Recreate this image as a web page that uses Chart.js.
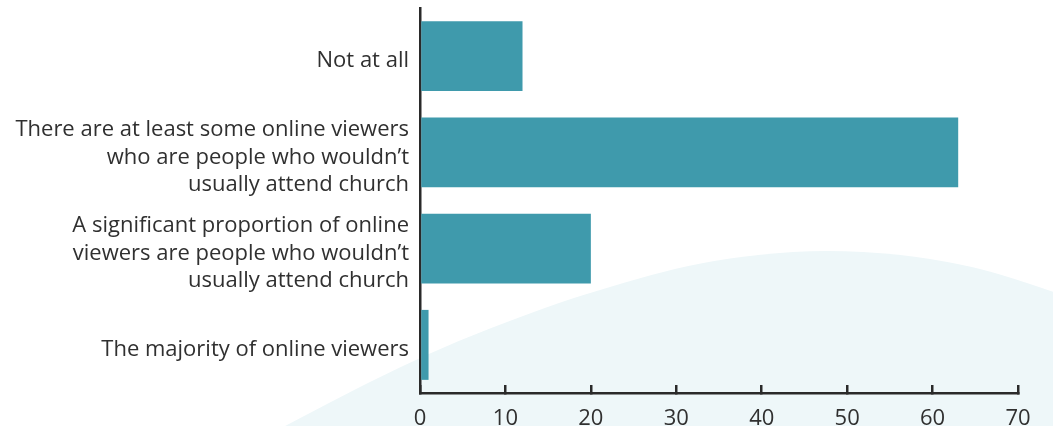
<!DOCTYPE html>
<html>
<head>
<meta charset="utf-8">
<script src="https://cdn.jsdelivr.net/npm/chart.js@4.4.1/dist/chart.umd.min.js"></script>
<style>
  html, body { margin: 0; padding: 0; background: #ffffff; }
  #wrap { width: 1053px; height: 426px; position: relative; }
</style>
</head>
<body>
<div id="wrap"><canvas id="c" width="1053" height="426"></canvas></div>
<script>
// ---- data ----
const categories = [
  ["Not at all"],
  ["There are at least some online viewers", "who are people who wouldn\u2019t", "usually attend church"],
  ["A significant proportion of online", "viewers are people who wouldn\u2019t", "usually attend church"],
  ["The majority of online viewers"]
];
const values = [12, 63, 20, 1];
const xTicks = [0, 10, 20, 30, 40, 50, 60, 70];

// ---- decoration: light background swoosh ----
const swoosh = [[270,434],[340,397],[400,367],[460,340],[520,317],[567,300],[600,290],[650,275],[700,263],[760,254],[826,250],[900,254],[960,264],[1000,274],[1060,294],[1060,434]];
const bgPlugin = {
  id: 'bgSwoosh',
  beforeDraw(chart) {
    const ctx = chart.ctx;
    ctx.save();
    ctx.fillStyle = '#eef7f9';
    ctx.beginPath();
    ctx.moveTo(swoosh[0][0], swoosh[0][1]);
    for (let i = 1; i < swoosh.length - 2; i++) {
      const mx = (swoosh[i][0] + swoosh[i+1][0]) / 2;
      const my = (swoosh[i][1] + swoosh[i+1][1]) / 2;
      ctx.quadraticCurveTo(swoosh[i][0], swoosh[i][1], mx, my);
    }
    ctx.lineTo(swoosh[swoosh.length-2][0], swoosh[swoosh.length-2][1]);
    ctx.lineTo(swoosh[swoosh.length-1][0], swoosh[swoosh.length-1][1]);
    ctx.closePath();
    ctx.fill();
    ctx.restore();
  }
};

const FONT = '"Open Sans", "Noto Sans", sans-serif';
const TEXT = '#303030';
const AXIS = '#2a2a2a';

new Chart(document.getElementById('c'), {
  type: 'bar',
  data: {
    labels: categories,
    datasets: [{
      data: values,
      backgroundColor: '#3f9aac',
      borderWidth: 0,
      categoryPercentage: 1.0,
      barPercentage: 0.727
    }]
  },
  plugins: [bgPlugin],
  options: {
    indexAxis: 'y',
    responsive: false,
    animation: false,
    devicePixelRatio: 1,
    layout: { padding: { top: 8, right: 35, bottom: 0, left: 0 } },
    plugins: { legend: { display: false }, tooltip: { enabled: false } },
    scales: {
      x: {
        min: 0, max: 70,
        afterBuildTicks(scale) { scale.ticks = xTicks.map(v => ({ value: v })); },
        afterFit(scale) { scale.height = 33; scale.paddingLeft = 0; scale.paddingRight = 0; },
        grid: { display: true, drawOnChartArea: false, drawTicks: true, tickLength: -8, color: AXIS, lineWidth: 2.5 },
        border: { display: true, color: AXIS, width: 2.5 },
        ticks: { color: TEXT, padding: 23, maxRotation: 0, font: { family: FONT, size: 22, lineHeight: 1 } }
      },
      y: {
        afterFit(scale) { scale.width = 420; scale.paddingTop = 0; scale.paddingBottom = 0; },
        grid: { display: true, drawOnChartArea: false, drawTicks: false },
        border: { display: true, color: AXIS, width: 2.5 },
        ticks: { color: TEXT, padding: 11, labelOffset: 5, font: { family: FONT, size: 22, lineHeight: 1.25 } }
      }
    }
  }
});
</script>
</body>
</html>
